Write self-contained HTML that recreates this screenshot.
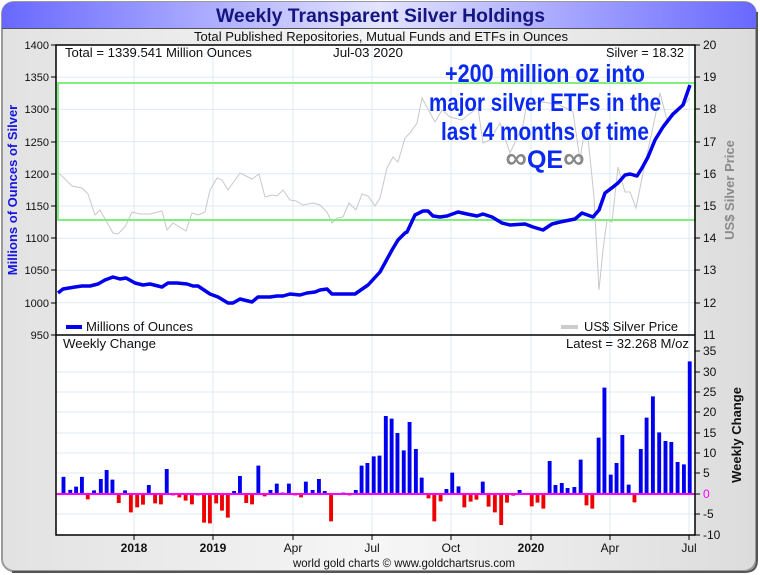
<!DOCTYPE html>
<html><head><meta charset="utf-8"><style>
html,body{margin:0;padding:0;background:#fff;}
svg{display:block;font-family:"Liberation Sans",sans-serif;}
</style></head><body>
<svg width="760" height="575" viewBox="0 0 760 575" xmlns="http://www.w3.org/2000/svg">
<defs>
<linearGradient id="tb" x1="0" x2="1" y1="0" y2="0">
<stop offset="0" stop-color="#6868ff"/><stop offset="0.5" stop-color="#e4e4ff"/><stop offset="1" stop-color="#6868ff"/></linearGradient>
<linearGradient id="bg" x1="0" x2="1" y1="0" y2="0">
<stop offset="0" stop-color="#e2e2e2"/><stop offset="0.5" stop-color="#f6f6f6"/><stop offset="1" stop-color="#dcdcdc"/></linearGradient>
</defs>
<rect x="0" y="0" width="760" height="575" fill="#fff"/>
<rect x="2" y="2" width="754" height="569" rx="12" fill="url(#bg)" stroke="#9a9a9a" stroke-width="2"/>
<path d="M757,12 V560 Q757,572 745,572 H12" fill="none" stroke="#555" stroke-width="2"/>
<path d="M2,28 V14 Q2,2 14,2 H744 Q756,2 756,14 V28 Z" fill="url(#tb)"/>
<line x1="2" y1="28.5" x2="756" y2="28.5" stroke="#555" stroke-width="1"/>
<text x="216" y="22" font-size="19" font-weight="bold" fill="#151580" textLength="329" lengthAdjust="spacingAndGlyphs">Weekly Transparent Silver Holdings</text>
<text x="194" y="41" font-size="13" fill="#111" textLength="374" lengthAdjust="spacingAndGlyphs">Total Published Repositories, Mutual Funds and ETFs in Ounces</text>

<rect x="56" y="45" width="639" height="490" fill="#fff"/>
<g stroke="#dfeaf3" stroke-width="1">
<line x1="56" y1="77.2" x2="695" y2="77.2"/><line x1="56" y1="109.4" x2="695" y2="109.4"/><line x1="56" y1="141.6" x2="695" y2="141.6"/><line x1="56" y1="173.8" x2="695" y2="173.8"/><line x1="56" y1="206" x2="695" y2="206"/><line x1="56" y1="238.2" x2="695" y2="238.2"/><line x1="56" y1="270.4" x2="695" y2="270.4"/><line x1="56" y1="302.6" x2="695" y2="302.6"/>
<line x1="56" y1="372" x2="695" y2="372"/><line x1="56" y1="392" x2="695" y2="392"/><line x1="56" y1="412" x2="695" y2="412"/><line x1="56" y1="433" x2="695" y2="433"/><line x1="56" y1="453" x2="695" y2="453"/><line x1="56" y1="473" x2="695" y2="473"/><line x1="56" y1="514" x2="695" y2="514"/>
<line x1="134" y1="45" x2="134" y2="535"/><line x1="213" y1="45" x2="213" y2="535"/><line x1="293" y1="45" x2="293" y2="535"/><line x1="372" y1="45" x2="372" y2="535"/><line x1="451" y1="45" x2="451" y2="535"/><line x1="531" y1="45" x2="531" y2="535"/><line x1="610" y1="45" x2="610" y2="535"/><line x1="689" y1="45" x2="689" y2="535"/>
</g>

<polyline fill="none" stroke="#c8c8c8" stroke-width="1" points="58,173 63,177 72,186 82,188 88,194 95,215 100,210 113,233 118,234 125,227 132,212 140,214 150,214 162,211 167,230 173,223 186,231 192,213 198,215 205,212 210,190 217,178 222,180 228,190 240,173 252,179 259,174 265,197 272,195 277,196 283,190 290,200 296,201 303,205 313,203 320,205 327,212 332,223 337,218 343,217 349,203 356,210 362,194 368,196 375,206 380,198 387,168 393,157 398,162 405,138 410,133 417,123 422,98 435,122 442,110 450,117 462,120 468,115 478,108 483,143 490,140 500,123 510,153 523,125 527,103 543,102 560,105 573,112 580,160 585,127 588,138 594,197 599,290 603,250 607,220 612,222 618,167 625,192 630,192 636,208 643,173 653,127 660,93 667,120 677,113 690,98"/>
<rect x="58" y="83" width="637" height="137" fill="none" stroke="#80ee80" stroke-width="2"/>
<polyline fill="none" stroke="#0000ee" stroke-width="3.5" stroke-linejoin="round" points="58,293 63,289 75,287 82,286 90,286 98,284 105,280 113,277 120,279 126,278 135,283 143,285 150,284 162,287 168,283 177,283 187,284 193,286 198,286 210,294 218,297 228,303 233,303 240,299 252,302 258,297 270,297 277,296 283,296 290,294 300,295 307,293 315,292 320,290 327,289 332,294 355,294 368,285 380,272 392,250 398,240 405,233 407,232 415,215 423,211 428,211 433,216 440,217 447,216 458,212 467,214 477,216 483,214 492,217 502,223 510,225 525,224 533,227 543,230 552,224 560,222 575,219 582,213 593,217 599,210 605,193 613,187 618,183 625,175 630,174 637,176 642,168 648,157 655,140 663,127 673,114 683,105 690,85"/>

<g font-family="'Liberation Sans Narrow','Liberation Sans',sans-serif" font-weight="bold" font-size="25" fill="#0a2af0" text-anchor="middle" stroke="#fff" stroke-width="0.6" paint-order="stroke">
<text x="545" y="82" textLength="200" lengthAdjust="spacingAndGlyphs">+200 million oz into</text>
<text x="545" y="111" textLength="232" lengthAdjust="spacingAndGlyphs">major silver ETFs in the</text>
<text x="545" y="140" textLength="208" lengthAdjust="spacingAndGlyphs">last 4 months of time</text>
<text x="545" y="168"><tspan fill="#888" font-size="30">∞</tspan>QE<tspan fill="#888" font-size="30">∞</tspan></text>
</g>

<g font-size="13" fill="#111">
<text x="65" y="57" textLength="187" lengthAdjust="spacingAndGlyphs">Total = 1339.541 Million Ounces</text>
<text x="333" y="57" textLength="70" lengthAdjust="spacingAndGlyphs">Jul-03  2020</text>
<text x="606" y="57" textLength="78" lengthAdjust="spacingAndGlyphs">Silver = 18.32</text>
<text x="86" y="331" textLength="107" lengthAdjust="spacingAndGlyphs">Millions of Ounces</text>
<text x="584" y="331" textLength="94" lengthAdjust="spacingAndGlyphs">US$ Silver Price</text>
<text x="63" y="348" textLength="93" lengthAdjust="spacingAndGlyphs">Weekly Change</text>
<text x="566" y="348" textLength="123" lengthAdjust="spacingAndGlyphs">Latest = 32.268 M/oz</text>
</g>
<line x1="66" y1="327" x2="82" y2="327" stroke="#0000ee" stroke-width="4"/>
<line x1="561" y1="327" x2="578" y2="327" stroke="#ccc" stroke-width="4"/>

<g transform="translate(0,330) scale(0.4847,0.33333)">
<path fill="#0000ee" d="M127,492v-51.5h8v51.5zM141,492v-12.3h8v12.3zM153,492v-22h8v22zM165,492v-51.5h8v51.5zM190,492v-11h8v11zM204,492v-45h8v45zM216,492v-72h8v72zM228,492v-43h8v43zM254,492v-11h8v11zM303,492v-27h8v27zM340,492v-75h8v75zM479,492v-9h8v9zM491,492v-54h8v54zM529,492v-85h8v85zM554,492v-12h8v12zM567,492v-31h8v31zM579,492v-4h8v4zM592,492v-31h8v31zM627,492v-37h8v37zM641,492v-12h8v12zM654,492v-45h8v45zM666,492v-9h8v9zM704,492v-4h8v4zM730,492v-12h8v12zM742,492v-85h8v85zM754,492v-93h8v93zM767,492v-113h8v113zM779,492v-115h8v115zM792,492v-234h8v234zM804,492v-226h8v226zM816,492v-183h8v183zM829,492v-131h8v131zM841,492v-216h8v216zM854,492v-135h8v135zM866,492v-49h8v49zM917,492v-15h8v15zM929,492v-64h8v64zM942,492v-23h8v23zM992,492v-37h8v37zM1068,492v-12h8v12zM1130,492v-99h8v99zM1142,492v-27h8v27zM1155,492v-33h8v33zM1167,492v-18h8v18zM1181,492v-21h8v21zM1194,492v-103h8v103zM1231,492v-169h8v169zM1243,492v-319h8v319zM1256,492v-58h8v58zM1268,492v-93h8v93zM1280,492v-177h8v177zM1293,492v-28h8v28zM1318,492v-135h8v135zM1330,492v-229h8v229zM1343,492v-293h8v293zM1356,492v-185h8v185zM1369,492v-159h8v159zM1381,492v-156h8v156zM1394,492v-96h8v96zM1407,492v-89h8v89zM1419,492v-398h8v398z"/>
<path fill="#ee0000" d="M177,492v16h8v-16zM241,492v27h8v-27zM266,492v55h8v-55zM279,492v40h8v-40zM291,492v32h8v-32zM316,492v28h8v-28zM328,492v31h8v-31zM353,492v4h8v-4zM366,492v10h8v-10zM379,492v20h8v-20zM392,492v31h8v-31zM404,492v4h8v-4zM417,492v86h8v-86zM429,492v88h8v-88zM442,492v28h8v-28zM454,492v50h8v-50zM466,492v71h8v-71zM504,492v27h8v-27zM516,492v31h8v-31zM542,492v7h8v-7zM605,492v4h8v-4zM617,492v10h8v-10zM679,492v82h8v-82zM717,492v4h8v-4zM880,492v13h8v-13zM892,492v82h8v-82zM905,492v22h8v-22zM954,492v40h8v-40zM967,492v23h8v-23zM979,492v17h8v-17zM1004,492v38h8v-38zM1017,492v55h8v-55zM1030,492v93h8v-93zM1042,492v26h8v-26zM1055,492v5h8v-5zM1093,492v37h8v-37zM1105,492v26h8v-26zM1117,492v44h8v-44zM1206,492v34h8v-34zM1218,492v44h8v-44zM1305,492v25h8v-25z"/>
</g>
<line x1="56" y1="494" x2="695" y2="494" stroke="#ff00ff" stroke-width="2"/>

<rect x="56" y="45" width="639" height="490" fill="none" stroke="#000" stroke-width="1.5"/>
<line x1="56" y1="335" x2="695" y2="335" stroke="#000" stroke-width="1.5"/>

<g font-size="11" fill="#111" text-anchor="end">
<text x="49" y="49">1400</text><text x="49" y="81">1350</text><text x="49" y="113">1300</text><text x="49" y="146">1250</text><text x="49" y="178">1200</text><text x="49" y="210">1150</text><text x="49" y="242">1100</text><text x="49" y="274">1050</text><text x="49" y="307">1000</text><text x="49" y="339">950</text>
</g>
<g stroke="#000"><line x1="51" y1="45" x2="56" y2="45"/><line x1="51" y1="77" x2="56" y2="77"/><line x1="51" y1="109" x2="56" y2="109"/><line x1="51" y1="142" x2="56" y2="142"/><line x1="51" y1="174" x2="56" y2="174"/><line x1="51" y1="206" x2="56" y2="206"/><line x1="51" y1="238" x2="56" y2="238"/><line x1="51" y1="270" x2="56" y2="270"/><line x1="51" y1="303" x2="56" y2="303"/><line x1="51" y1="335" x2="56" y2="335"/></g>
<g font-size="12" fill="#111">
<text x="703" y="49">20</text><text x="703" y="81">19</text><text x="703" y="113">18</text><text x="703" y="146">17</text><text x="703" y="178">16</text><text x="703" y="210">15</text><text x="703" y="242">14</text><text x="703" y="274">13</text><text x="703" y="307">12</text><text x="703" y="339">11</text>
</g>
<g stroke="#000"><line x1="695" y1="45" x2="700" y2="45"/><line x1="695" y1="77" x2="700" y2="77"/><line x1="695" y1="109" x2="700" y2="109"/><line x1="695" y1="142" x2="700" y2="142"/><line x1="695" y1="174" x2="700" y2="174"/><line x1="695" y1="206" x2="700" y2="206"/><line x1="695" y1="238" x2="700" y2="238"/><line x1="695" y1="270" x2="700" y2="270"/><line x1="695" y1="303" x2="700" y2="303"/>
<line x1="695" y1="351" x2="700" y2="351"/><line x1="695" y1="372" x2="700" y2="372"/><line x1="695" y1="392" x2="700" y2="392"/><line x1="695" y1="412" x2="700" y2="412"/><line x1="695" y1="433" x2="700" y2="433"/><line x1="695" y1="453" x2="700" y2="453"/><line x1="695" y1="473" x2="700" y2="473"/><line x1="695" y1="494" x2="700" y2="494"/><line x1="695" y1="514" x2="700" y2="514"/><line x1="695" y1="535" x2="700" y2="535"/></g>
<g font-size="12" fill="#111">
<text x="703" y="355">35</text><text x="703" y="376">30</text><text x="703" y="396">25</text><text x="703" y="416">20</text><text x="703" y="437">15</text><text x="703" y="457">10</text><text x="703" y="477">5</text><text x="703" y="498" fill="#ff00ff">0</text><text x="703" y="518">-5</text><text x="703" y="539">-10</text>
</g>
<g font-size="12" fill="#111" text-anchor="middle">
<text x="134" y="552" font-weight="bold">2018</text><text x="213" y="552" font-weight="bold">2019</text><text x="293" y="552">Apr</text><text x="372" y="552">Jul</text><text x="451" y="552">Oct</text><text x="531" y="552" font-weight="bold">2020</text><text x="610" y="552">Apr</text><text x="689" y="552">Jul</text>
</g>
<g stroke="#000"><line x1="134" y1="535" x2="134" y2="540"/><line x1="213" y1="535" x2="213" y2="540"/><line x1="293" y1="535" x2="293" y2="540"/><line x1="372" y1="535" x2="372" y2="540"/><line x1="451" y1="535" x2="451" y2="540"/><line x1="531" y1="535" x2="531" y2="540"/><line x1="610" y1="535" x2="610" y2="540"/><line x1="689" y1="535" x2="689" y2="540"/></g>
<text x="293" y="567" font-size="12" fill="#111" textLength="222" lengthAdjust="spacingAndGlyphs">world gold charts © www.goldchartsrus.com</text>

<text transform="translate(17,190) rotate(-90)" text-anchor="middle" font-size="13" font-weight="bold" fill="#1515e0">Millions of Ounces of Silver</text>
<text transform="translate(734,190) rotate(-90)" text-anchor="middle" font-size="13" font-weight="bold" fill="#8a8a8a">US$ Silver Price</text>
<text transform="translate(741,435) rotate(-90)" text-anchor="middle" font-size="13" font-weight="bold" fill="#111">Weekly Change</text>
</svg>
</body></html>
